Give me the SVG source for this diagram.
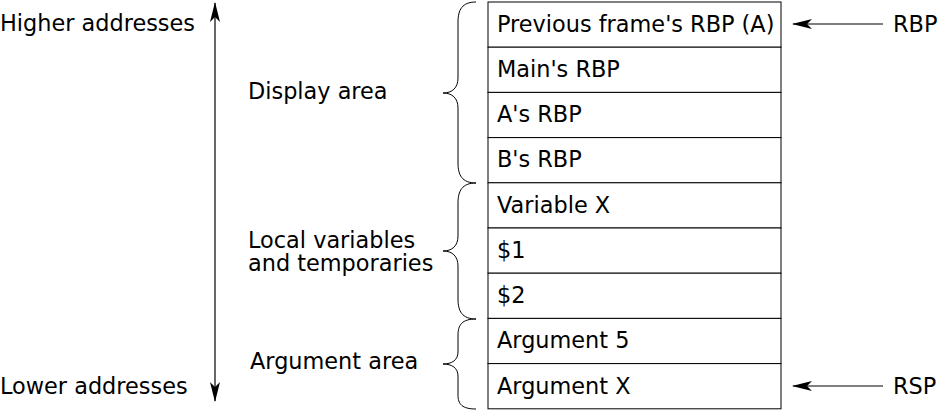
<svg xmlns="http://www.w3.org/2000/svg" width="938" height="411" viewBox="0 0 938 411">
<defs>
<style>
text{font-family:"DejaVu Sans",sans-serif;font-size:22.4px;fill:#000}
.cell{fill:#fff;stroke:#000;stroke-width:1}
.brace{fill:none;stroke:#000;stroke-width:1}
.arr{stroke:#000;stroke-width:1.2;fill:none}
</style>
<marker id="ah" viewBox="0 0 20 10" refX="19" refY="5" markerWidth="20" markerHeight="10" markerUnits="userSpaceOnUse" orient="auto">
<path d="M0,0 L20,5 L0,10 L5,5 Z" fill="#000"/>
</marker>
</defs>
<rect width="938" height="411" fill="#fff"/>
<g id="labels">
<text x="0" y="31">Higher addresses</text>
<text x="0" y="394">Lower addresses</text>
<text x="248" y="99">Display area</text>
<text x="248" y="248"><tspan x="248" y="248">Local variables</tspan><tspan x="248" y="271">and temporaries</tspan></text>
<text x="250" y="369">Argument area</text>
<text x="893" y="32">RBP</text>
<text x="893" y="394">RSP</text>
</g>
<g id="stack">
<g id="cell1"><rect class="cell" x="488" y="2" width="293" height="45.2"/><text x="497" y="31.5">Previous frame's RBP (A)</text></g>
<g id="cell2"><rect class="cell" x="488" y="47.2" width="293" height="45.2"/><text x="497" y="77">Main's RBP</text></g>
<g id="cell3"><rect class="cell" x="488" y="92.4" width="293" height="45.2"/><text x="497" y="122">A's RBP</text></g>
<g id="cell4"><rect class="cell" x="488" y="137.6" width="293" height="45.2"/><text x="497" y="167">B's RBP</text></g>
<g id="cell5"><rect class="cell" x="488" y="182.8" width="293" height="45.2"/><text x="497" y="212.5">Variable X</text></g>
<g id="cell6"><rect class="cell" x="488" y="228" width="293" height="45.2"/><text x="497" y="258">$1</text></g>
<g id="cell7"><rect class="cell" x="488" y="273.2" width="293" height="45.2"/><text x="497" y="303">$2</text></g>
<g id="cell8"><rect class="cell" x="488" y="318.4" width="293" height="45.2"/><text x="497" y="348">Argument 5</text></g>
<g id="cell9"><rect class="cell" x="488" y="363.6" width="293" height="45.2"/><text x="497" y="393.5">Argument X</text></g>
</g>
<g id="braces">
<path class="brace" d="M476,2 C462,2 458,10 458,22 L458,78 C458,88 452,93 443,93 C452,93 458,98 458,108 L458,163 C458,175 462,183 476,183"/>
<path class="brace" d="M476,183 C462,183 458,191 458,203 L458,236 C458,246 452,251 443,251 C452,251 458,256 458,266 L458,299 C458,311 462,319 476,319"/>
<path class="brace" d="M476,319 C462,319 458,325 458,335 L458,352 C458,360 452,364 443,364 C452,364 458,368 458,376 L458,395 C458,404 462,409 476,409"/>
</g>
<g id="connectors">
<line class="arr" x1="215" y1="200" x2="215" y2="3" marker-end="url(#ah)"/>
<line class="arr" x1="215" y1="200" x2="215" y2="401" marker-end="url(#ah)"/>
<line class="arr" x1="883" y1="24" x2="793" y2="24" marker-end="url(#ah)"/>
<line class="arr" x1="883" y1="386" x2="793" y2="386" marker-end="url(#ah)"/>
</g>
</svg>
